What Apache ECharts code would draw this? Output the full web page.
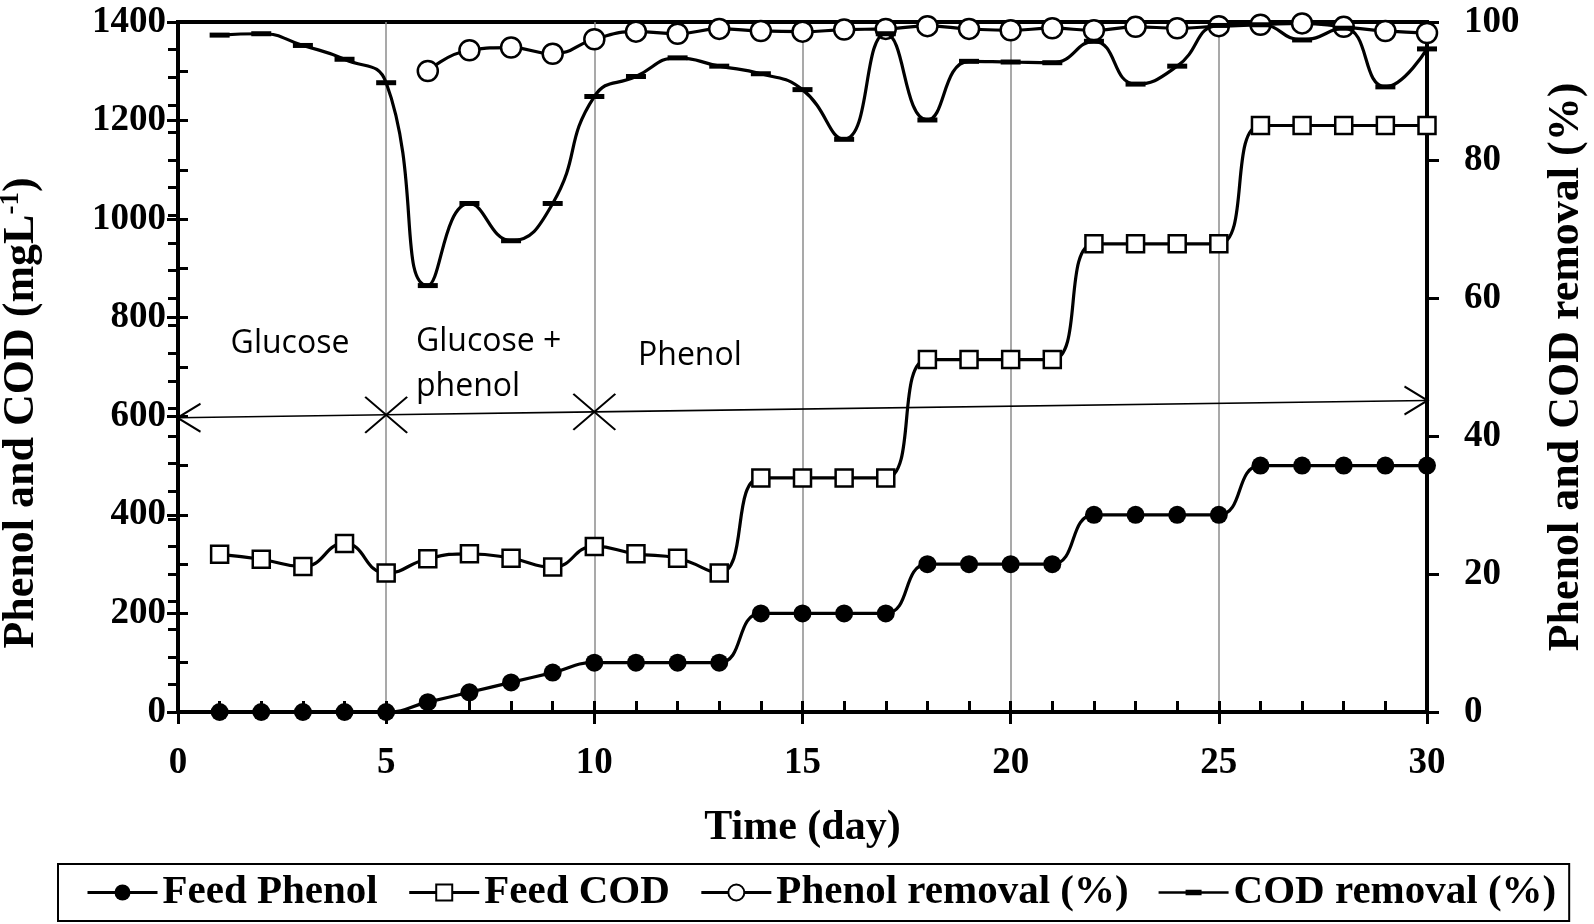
<!DOCTYPE html>
<html>
<head>
<meta charset="utf-8">
<script src="https://cdn.jsdelivr.net/npm/echarts@6/dist/echarts.min.js"></script>
<style>
html,body{margin:0;padding:0;background:#fff;}
#chart{width:1594px;height:924px;}
</style>
</head>
<body>
<div id="chart"></div>
<script>
// ---- data ----
const days = [1,2,3,4,5,6,7,8,9,10,11,12,13,14,15,16,17,18,19,20,21,22,23,24,25,26,27,28,29,30];
const feedPhenol = [0,0,0,0,0,20,40,60,80,100,100,100,100,200,200,200,200,300,300,300,300,400,400,400,400,500,500,500,500,500];
const feedCOD = [320,310,295,342,282,311,321,312,294,336,321,312,282,475,475,475,475,715,715,715,715,950,950,950,950,1190,1190,1190,1190,1190];
const phenolRemoval = [null,null,null,null,null,92.9,95.9,96.3,95.4,97.5,98.6,98.3,99.0,98.7,98.6,98.9,99.0,99.4,99.0,98.8,99.1,98.8,99.3,99.1,99.4,99.6,99.8,99.3,98.7,98.4];
const codRemoval = [98.1,98.3,96.6,94.6,91.2,61.8,73.7,68.3,73.7,89.2,92.1,94.8,93.6,92.5,90.2,83.0,98.3,85.8,94.3,94.2,94.1,97.2,91.0,93.6,99.5,99.6,97.4,99.1,90.6,96.1];
// phase arrow: day positions and left-axis heights
const phaseDays = [0,5,10,30];
const phaseLevel = [597,603,609,632];
const seriesNames = ['Feed Phenol','Feed COD','Phenol removal (%)','COD removal (%)'];

const serif = 'Liberation Serif';
const tickFont = {fontFamily:serif, fontWeight:'bold', fontSize:37, color:'#000', formatter: v => String(v)};
const pairs = (vals) => days.map((d,i)=>[d, vals[i]]).filter(p => p[1] !== null);

const chart = echarts.init(document.getElementById('chart'));
const chevL = 'path://M10,0L0,10L10,20';
const chevR = 'path://M0,0L10,10L0,20';
const cross = 'path://M0,0L10,10M10,0L0,10';
const phaseData = phaseDays.map((d,i)=>{
  const item = {value:[d, phaseLevel[i]]};
  if (i === 0) { item.symbol = chevL; item.symbolSize = [23,28]; item.symbolOffset = [11,0]; }
  else if (i === phaseDays.length-1) { item.symbol = chevR; item.symbolSize = [23,28]; item.symbolOffset = [-11,0]; }
  else { item.symbol = cross; item.symbolSize = [42,36]; }
  return item;
});

const legendText = {fontFamily:serif, fontWeight:'bold', fontSize:41, color:'#000'};
const option = {
  animation:false,
  backgroundColor:'#fff',
  grid:{left:178, right:167, top:22, bottom:212, containLabel:false, outerBoundsMode:'none',
        show:true, borderColor:'#000', borderWidth:4, backgroundColor:'transparent'},
  legend:{
    data:[
      {name:seriesNames[0]},
      {name:seriesNames[1]},
      {name:seriesNames[2]},
      {name:seriesNames[3], icon:'path://M0,9L70,9L70,11.5L0,11.5Z M27,7.5L43,7.5L43,13L27,13Z', itemStyle:{color:'#000', borderWidth:0}}
    ],
    left:58, top:864, orient:'horizontal',
    itemWidth:70, itemHeight:20, itemGap:30, padding:[8,13,8,28],
    borderColor:'#000', borderWidth:2,
    lineStyle:{width:3},
    textStyle:legendText
  },
  xAxis:[
    {type:'value', min:0, max:30, interval:5,
     axisLine:{show:true, onZero:false, lineStyle:{color:'#000', width:4}},
     axisTick:{show:true, length:12, lineStyle:{color:'#000', width:3}},
     axisLabel:{...tickFont, margin:33},
     splitLine:{show:true, lineStyle:{color:'#8c8c8c', width:1.5}},
     name:'Time (day)', nameLocation:'middle', nameGap:95,
     nameTextStyle:{fontFamily:serif, fontWeight:'bold', fontSize:42, color:'#000'}},
    {type:'value', min:0, max:30, interval:1, position:'bottom',
     axisLine:{show:false}, axisTick:{show:true, inside:true, length:11, lineStyle:{color:'#000', width:3}},
     axisLabel:{show:false}, splitLine:{show:false}}
  ],
  yAxis:[
    {type:'value', min:0, max:1400, interval:200, position:'left',
     axisLine:{show:true, onZero:false, lineStyle:{color:'#000', width:4}},
     axisTick:{show:true, length:11, lineStyle:{color:'#000', width:3}},
     axisLabel:{...tickFont, margin:12},
     splitLine:{show:false},
     name:'{a|Phenol and COD (mgL}{s|-1}{a|)}', nameLocation:'middle', nameGap:132, nameRotate:90,
     nameTextStyle:{padding:[0,92,0,0], rich:{
       a:{fontFamily:serif, fontWeight:'bold', fontSize:44, color:'#000', lineHeight:48},
       s:{fontFamily:serif, fontWeight:'bold', fontSize:27, color:'#000', lineHeight:27, verticalAlign:'top'}
     }}},
    {type:'value', min:0, max:100, interval:20, position:'right',
     axisLine:{show:true, onZero:false, lineStyle:{color:'#000', width:4}},
     axisTick:{show:true, length:12, lineStyle:{color:'#000', width:3}},
     axisLabel:{...tickFont, margin:37},
     splitLine:{show:false},
     name:'Phenol and COD removal (%)', nameLocation:'middle', nameGap:118, nameRotate:90,
     nameTextStyle:{fontFamily:serif, fontWeight:'bold', fontSize:44, color:'#000'}},
    {type:'value', min:0, max:1400, interval:100, position:'left',
     axisLine:{show:false}, axisTick:{show:true, inside:true, length:10, lineStyle:{color:'#000', width:3}},
     axisLabel:{show:false}, splitLine:{show:false}},
    {type:'value', min:0, max:100, interval:4, position:'right',
     axisLine:{show:false}, axisTick:{show:true, inside:true, length:10, lineStyle:{color:'#000', width:3}},
     axisLabel:{show:false}, splitLine:{show:false}}
  ],
  graphic:[
    {type:'text', x:290, y:344, style:{text:'Glucose', fontFamily:'Open Sans', fontSize:32, fill:'#000', align:'center', verticalAlign:'middle'}},
    {type:'text', x:416, y:342, style:{text:'Glucose +', fontFamily:'Open Sans', fontSize:32, fill:'#000', align:'left', verticalAlign:'middle'}},
    {type:'text', x:416, y:387, style:{text:'phenol', fontFamily:'Open Sans', fontSize:32, fill:'#000', align:'left', verticalAlign:'middle'}},
    {type:'text', x:638, y:356, style:{text:'Phenol', fontFamily:'Open Sans', fontSize:32, fill:'#000', align:'left', verticalAlign:'middle'}}
  ],
  series:[
    {name:'phase', type:'line', xAxisIndex:0, yAxisIndex:0, data:phaseData, silent:true, z:1,
     lineStyle:{color:'#000', width:1.6}, itemStyle:{color:'transparent', borderColor:'#000', borderWidth:2},
     showAllSymbol:true},
    {name:seriesNames[0], type:'line', xAxisIndex:0, yAxisIndex:0, data:pairs(feedPhenol), smooth:0.5, z:3,
     symbol:'circle', symbolSize:18, showAllSymbol:true,
     lineStyle:{color:'#000', width:3.2}, itemStyle:{color:'#000'}},
    {name:seriesNames[1], type:'line', xAxisIndex:0, yAxisIndex:0, data:pairs(feedCOD), smooth:0.5, z:3,
     symbol:'rect', symbolSize:17, showAllSymbol:true,
     lineStyle:{color:'#000', width:3.2}, itemStyle:{color:'#fff', borderColor:'#000', borderWidth:2.5}},
    {name:seriesNames[2], type:'line', xAxisIndex:0, yAxisIndex:1, data:pairs(phenolRemoval), smooth:0.5, z:3,
     symbol:'circle', symbolSize:20, showAllSymbol:true,
     lineStyle:{color:'#000', width:3.2}, itemStyle:{color:'#fff', borderColor:'#000', borderWidth:2.5}},
    {name:seriesNames[3], type:'line', xAxisIndex:0, yAxisIndex:1, data:pairs(codRemoval), smooth:0.5, z:4,
     symbol:'rect', symbolSize:[20,5], showAllSymbol:true,
     lineStyle:{color:'#000', width:3.2}, itemStyle:{color:'#000'}}
  ]
};
chart.setOption(option);
</script>
</body>
</html>
